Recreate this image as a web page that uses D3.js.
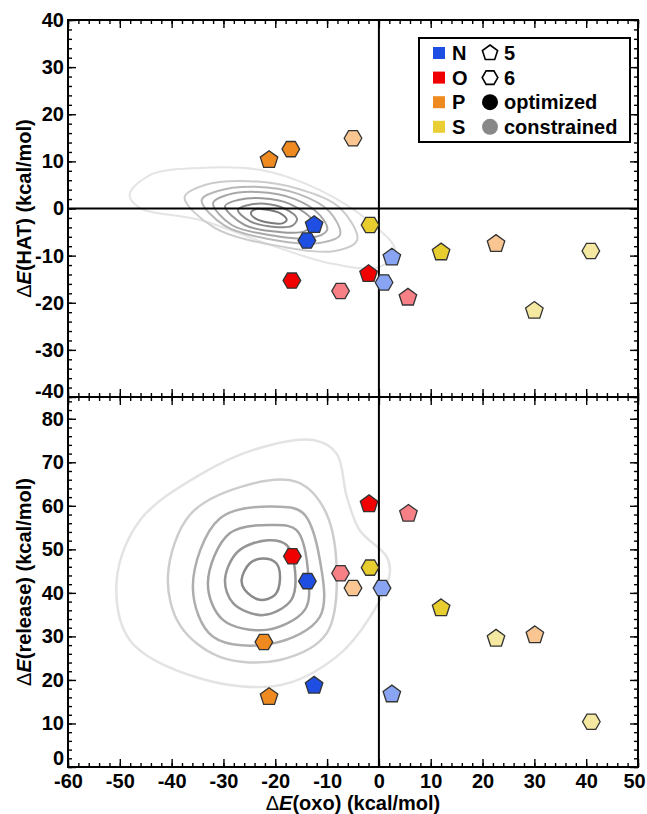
<!DOCTYPE html>
<html lang="en">
<head>
  <meta charset="UTF-8">
  <title>HAT and release vs oxo energies</title>
  <script src="https://d3js.org/d3.v7.min.js"></script>
  <style>
    body { margin: 0; background: #fff; }
    text { font-family: "Liberation Sans", Arial, Helvetica, sans-serif; font-weight: bold; }
  </style>
</head>
<body>
<script>
  // values
  const elements = ['N', 'O', 'P', 'S']
  const oxoTicks = [-60, -50, -40, -30, -20, -10, 0, 10, 20, 30, 40, 50]
  const hatTicks = [-40, -30, -20, -10, 0, 10, 20, 30, 40]
  const releaseTicks = [0, 10, 20, 30, 40, 50, 60, 70, 80]

  const hatPoints = [
    { el: 'P', ring: 6, state: 'opt', x: -17.0, y: 12.6 },
    { el: 'P', ring: 5, state: 'opt', x: -21.2, y: 10.3 },
    { el: 'P', ring: 6, state: 'con', x: -5.0, y: 14.9 },
    { el: 'N', ring: 5, state: 'opt', x: -12.5, y: -3.5 },
    { el: 'N', ring: 6, state: 'opt', x: -13.9, y: -6.8 },
    { el: 'S', ring: 6, state: 'opt', x: -1.7, y: -3.5 },
    { el: 'N', ring: 5, state: 'con', x: 2.5, y: -10.4 },
    { el: 'O', ring: 5, state: 'opt', x: -2.0, y: -13.9 },
    { el: 'N', ring: 6, state: 'con', x: 1.0, y: -15.7 },
    { el: 'O', ring: 6, state: 'opt', x: -16.8, y: -15.3 },
    { el: 'O', ring: 6, state: 'con', x: -7.4, y: -17.5 },
    { el: 'O', ring: 5, state: 'con', x: 5.6, y: -18.9 },
    { el: 'S', ring: 5, state: 'opt', x: 12.0, y: -9.3 },
    { el: 'P', ring: 5, state: 'con', x: 22.6, y: -7.5 },
    { el: 'S', ring: 6, state: 'con', x: 40.9, y: -9.0 },
    { el: 'S', ring: 5, state: 'con', x: 30.0, y: -21.7 }
  ]

  const releasePoints = [
    { el: 'O', ring: 5, state: 'opt', x: -1.9, y: 60.4 },
    { el: 'O', ring: 5, state: 'con', x: 5.7, y: 58.2 },
    { el: 'O', ring: 6, state: 'opt', x: -16.7, y: 48.4 },
    { el: 'O', ring: 6, state: 'con', x: -7.4, y: 44.5 },
    { el: 'S', ring: 6, state: 'opt', x: -1.7, y: 45.8 },
    { el: 'N', ring: 6, state: 'opt', x: -13.8, y: 42.7 },
    { el: 'P', ring: 6, state: 'con', x: -5.0, y: 41.1 },
    { el: 'N', ring: 6, state: 'con', x: 0.6, y: 41.1 },
    { el: 'P', ring: 6, state: 'opt', x: -22.2, y: 28.7 },
    { el: 'N', ring: 5, state: 'opt', x: -12.5, y: 18.7 },
    { el: 'P', ring: 5, state: 'opt', x: -21.2, y: 16.1 },
    { el: 'N', ring: 5, state: 'con', x: 2.5, y: 16.7 },
    { el: 'S', ring: 5, state: 'opt', x: 12.0, y: 36.5 },
    { el: 'S', ring: 5, state: 'con', x: 22.6, y: 29.5 },
    { el: 'P', ring: 5, state: 'con', x: 30.1, y: 30.3 },
    { el: 'S', ring: 6, state: 'con', x: 41.0, y: 10.4 }
  ]

  // density contours, inner -> outer
  const hatContours = [
    [[-24.7, -1.0], [-23.7, -0.1], [-22.0, -0.2], [-19.1, -1.0], [-17.8, -2.4], [-18.5, -3.1], [-20.7, -3.1], [-23.7, -2.2]],
    [[-27.2, -0.3], [-25.3, 0.7], [-22.0, 1.0], [-18.1, -0.1], [-15.8, -2.2], [-16.8, -3.7], [-20.1, -3.9], [-24.9, -2.7]],
    [[-29.7, 0.5], [-27.2, 1.8], [-22.6, 2.2], [-17.2, 1.0], [-12.7, -2.9], [-14.3, -4.8], [-19.1, -5.0], [-25.9, -3.5]],
    [[-32.0, 1.2], [-29.2, 2.9], [-23.4, 3.5], [-16.2, 2.0], [-11.4, -1.4], [-10.0, -4.6], [-13.3, -6.3], [-20.1, -5.8], [-28.4, -3.5]],
    [[-34.2, 1.8], [-31.1, 3.7], [-23.9, 4.6], [-15.6, 3.1], [-9.5, -0.7], [-7.5, -5.6], [-11.4, -7.3], [-19.1, -6.9], [-29.7, -3.7]],
    [[-37.5, 2.4], [-33.6, 5.0], [-24.9, 5.8], [-15.3, 4.1], [-7.5, 0.1], [-4.2, -6.7], [-8.5, -9.0], [-18.1, -8.2], [-31.7, -4.1]],
    [[-48.1, 2.9], [-44.2, 7.1], [-34.6, 8.6], [-23.0, 8.2], [-11.4, 3.9], [-1.7, -2.9], [3.1, -8.8], [0.2, -12.4], [-9.5, -11.6], [-21.0, -7.7], [-34.6, -2.4], [-46.1, 0.1]]
  ]

  const releaseContours = [
    [[-22.4, 47.9], [-19.8, 46.8], [-19.1, 43.0], [-20.1, 39.5], [-23.0, 38.4], [-25.9, 40.7], [-26.5, 43.0], [-24.9, 46.8]],
    [[-21.4, 52.1], [-17.8, 51.0], [-16.2, 45.3], [-16.9, 38.4], [-22.3, 34.9], [-28.1, 37.6], [-29.7, 43.0], [-27.2, 49.5]],
    [[-20.1, 55.6], [-15.9, 54.4], [-13.6, 43.7], [-14.3, 36.1], [-21.7, 31.5], [-30.1, 33.8], [-33.0, 42.2], [-28.8, 53.7]],
    [[-19.1, 59.8], [-14.6, 58.3], [-11.4, 47.6], [-11.4, 34.5], [-20.4, 28.4], [-32.0, 29.9], [-35.9, 41.4], [-30.7, 57.1]],
    [[-15.9, 65.5], [-10.8, 59.8], [-8.2, 46.8], [-10.1, 30.7], [-19.1, 24.6], [-30.7, 25.3], [-38.4, 32.6], [-40.7, 44.1], [-36.5, 57.9], [-26.8, 64.3]],
    [[-12.7, 75.1], [-8.2, 72.1], [-6.2, 62.1], [-3.7, 54.4], [1.5, 48.3], [2.1, 44.5], [-1.7, 34.5], [-8.2, 25.3], [-19.1, 18.8], [-34.6, 20.4], [-48.1, 29.2], [-50.6, 43.0], [-46.1, 56.7], [-34.6, 67.1], [-23.0, 73.3]]
  ]

  // styles
  const colors = {
    opt: { N: '#1f4fe2', O: '#f00000', P: '#ef8a20', S: '#e8cd2e' },
    con: { N: '#88a4f2', O: '#f78087', P: '#f9c692', S: '#f5e8a0' }
  }
  const hatContourColors = ['#7a7a7a', '#8a8a8a', '#999999', '#a8a8a8', '#b8b8b8', '#cccccc', '#e4e4e4']
  const releaseContourColors = ['#8a8a8a', '#969696', '#a2a2a2', '#aeaeae', '#cdcdcd', '#e3e3e3']

  const width = 647
  const height = 814
  const plotL = 68, plotR = 638, plotT = 20, plotM = 397, plotB = 767

  const svg = d3.select('body')
    .append('svg')
    .attr('width', width)
    .attr('height', height)

  const x = d3.scaleLinear().domain([-60, 50]).range([plotL, plotR])
  const yHat = d3.scaleLinear().domain([-40, 40]).range([plotM, plotT])
  const yRel = d3.scaleLinear().domain([0, 85]).range([plotB, plotM])

  function polygon(n, r, rot) {
    const pts = d3.range(n).map(i => {
      const a = rot + i * 2 * Math.PI / n
      return [r * Math.cos(a), r * Math.sin(a)]
    })
    return 'M' + pts.map(p => p.join(',')).join('L') + 'Z'
  }
  const pentagon = r => polygon(5, r, -Math.PI / 2)
  const hexagon = r => polygon(6, r, 0)

  function drawPanel(yScale, contours, contourColors, points, yDomain, showZeroH, lw) {
    const g = svg.append('g')
    const line = d3.line()
      .x(d => x(d[0]))
      .y(d => yScale(d[1]))
      .curve(d3.curveCatmullRomClosed.alpha(0.5))

    g.selectAll('path.contour')
      .data(contours.slice().reverse())
      .enter()
      .append('path')
      .attr('class', 'contour')
      .attr('d', line)
      .attr('fill', 'none')
      .attr('stroke', (d, i) => contourColors[contourColors.length - 1 - i])
      .attr('stroke-width', lw)

    g.append('line')
      .attr('x1', x(0)).attr('x2', x(0))
      .attr('y1', yScale(yDomain[0])).attr('y2', yScale(yDomain[1]))
      .attr('stroke', '#000').attr('stroke-width', 2)
    if (showZeroH) {
      g.append('line')
        .attr('x1', plotL).attr('x2', plotR)
        .attr('y1', yScale(0)).attr('y2', yScale(0))
        .attr('stroke', '#000').attr('stroke-width', 2)
    }

    g.selectAll('path.pt')
      .data(points)
      .enter()
      .append('path')
      .attr('class', 'pt')
      .attr('transform', d => `translate(${x(d.x)},${yScale(d.y)})`)
      .attr('d', d => d.ring === 5 ? pentagon(9.2) : hexagon(8.8))
      .attr('fill', d => colors[d.state][d.el])
      .attr('stroke', '#333')
      .attr('stroke-width', 1.3)
  }

  drawPanel(yHat, hatContours, hatContourColors, hatPoints, [-40, 40], true, 2)
  drawPanel(yRel, releaseContours, releaseContourColors, releasePoints, [0, 85], false, 2.5)

  // axes with inward ticks
  const minorX = d3.range(-60, 51, 2)
  const minorHat = d3.range(-40, 41, 2)
  const minorRel = d3.range(0, 85, 2)

  function addAxis(axisFn, scale, majors, minors, transform, labels, pad) {
    const major = axisFn(scale).tickValues(majors).tickSize(-8).tickPadding(pad || 4)
      .tickFormat(labels ? d => String(d) : '')
    const gMaj = svg.append('g').attr('transform', transform).call(major)
    const gMin = svg.append('g').attr('transform', transform)
      .call(axisFn(scale).tickValues(minors).tickSize(-4).tickFormat(''))
    for (const g of [gMaj, gMin]) {
      g.select('.domain').remove()
      g.selectAll('line').attr('stroke', '#000').attr('stroke-width', 1.4)
    }
    gMaj.selectAll('text').attr('font-size', 20).attr('fill', '#000')
    return gMaj
  }

  const hatLeft = addAxis(d3.axisLeft, yHat, hatTicks, minorHat, `translate(${plotL},0)`, true)
  hatLeft.selectAll('text').filter(d => d === -40).attr('dy', '0.02em')
  addAxis(d3.axisRight, yHat, hatTicks, minorHat, `translate(${plotR},0)`, false)
  addAxis(d3.axisTop, x, oxoTicks, minorX, `translate(0,${plotT})`, false)
  addAxis(d3.axisBottom, x, oxoTicks, minorX, `translate(0,${plotM})`, false)

  const relLeft = addAxis(d3.axisLeft, yRel, releaseTicks, minorRel, `translate(${plotL},0)`, true)
  relLeft.selectAll('text').filter(d => d === 0).attr('dy', '-0.15em')
  addAxis(d3.axisRight, yRel, releaseTicks, minorRel, `translate(${plotR},0)`, false)
  addAxis(d3.axisTop, x, oxoTicks, minorX, `translate(0,${plotM})`, false)
  const oxoAxis = addAxis(d3.axisBottom, x, oxoTicks, minorX, `translate(0,${plotB})`, true, 7)
  oxoAxis.selectAll('text').filter(d => d === 50).attr('dx', '-0.2em')

  // frames
  svg.append('rect')
    .attr('x', plotL).attr('y', plotT)
    .attr('width', plotR - plotL).attr('height', plotB - plotT)
    .attr('fill', 'none').attr('stroke', '#000').attr('stroke-width', 2)
  svg.append('line')
    .attr('x1', plotL).attr('x2', plotR).attr('y1', plotM).attr('y2', plotM)
    .attr('stroke', '#000').attr('stroke-width', 2)

  // axis titles
  function title(sel, word) {
    sel.append('tspan').attr('font-weight', 'normal').text('Δ')
    sel.append('tspan').attr('font-style', 'italic').text('E')
    sel.append('tspan').text(`(${word}) (kcal/mol)`)
  }
  svg.append('text')
    .attr('x', (plotL + plotR) / 2).attr('y', 810)
    .attr('text-anchor', 'middle').attr('font-size', 20)
    .call(title, 'oxo')
  svg.append('text')
    .attr('transform', `translate(31,${(plotT + plotM) / 2}) rotate(-90)`)
    .attr('text-anchor', 'middle').attr('font-size', 20)
    .call(title, 'HAT')
  svg.append('text')
    .attr('transform', `translate(31,${(plotM + plotB) / 2}) rotate(-90)`)
    .attr('text-anchor', 'middle').attr('font-size', 20)
    .call(title, 'release')

  // legend
  const legend = svg.append('g')
  legend.append('rect')
    .attr('x', 419).attr('y', 38).attr('width', 211).attr('height', 104)
    .attr('fill', '#fff').attr('stroke', '#000').attr('stroke-width', 2)
  const rowY = i => 53 + i * 24.6

  elements.forEach((el, i) => {
    legend.append('rect')
      .attr('x', 433).attr('y', rowY(i) - 6).attr('width', 12).attr('height', 12)
      .attr('fill', i === 3 ? '#e9cf35' : colors.opt[el])
    legend.append('text')
      .attr('x', 452).attr('y', rowY(i) + 7).attr('font-size', 20)
      .text(el)
  })

  const shapeItems = ['5', '6', 'optimized', 'constrained']
  shapeItems.forEach((label, i) => {
    const cy = rowY(i)
    if (i === 0) {
      legend.append('path').attr('transform', `translate(490,${cy})`)
        .attr('d', pentagon(8)).attr('fill', '#fff').attr('stroke', '#000').attr('stroke-width', 1.6)
    } else if (i === 1) {
      legend.append('path').attr('transform', `translate(490,${cy})`)
        .attr('d', hexagon(7.8)).attr('fill', '#fff').attr('stroke', '#000').attr('stroke-width', 1.6)
    } else {
      legend.append('circle').attr('cx', 490).attr('cy', cy).attr('r', 8)
        .attr('fill', i === 2 ? '#000' : '#888')
    }
    legend.append('text')
      .attr('x', 504).attr('y', cy + 7).attr('font-size', 20)
      .text(label)
  })
</script>
</body>
</html>
